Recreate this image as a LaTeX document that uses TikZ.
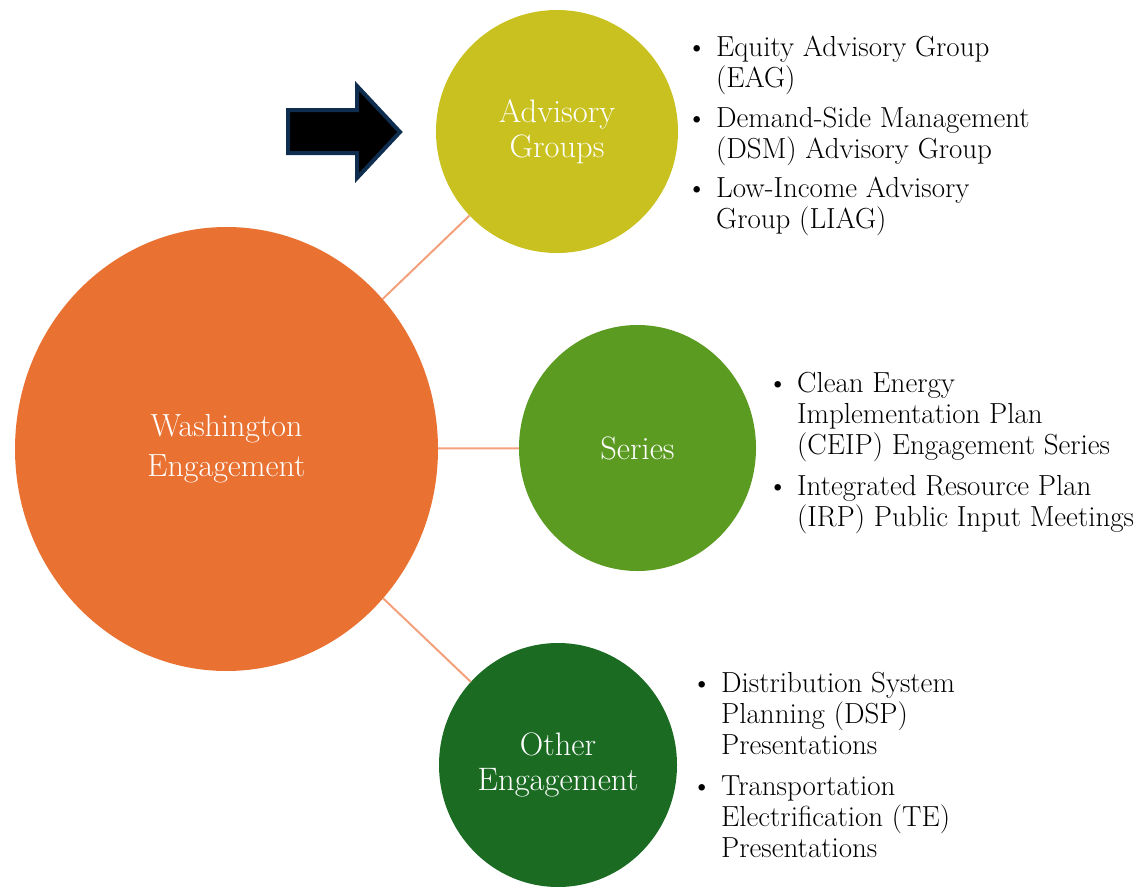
\documentclass[tikz,border=0pt]{standalone}
\usepackage{fontspec}
\usetikzlibrary{shapes.geometric}
\definecolor{orangeC}{HTML}{E97132}
\definecolor{advC}{HTML}{C9C120}
\definecolor{serC}{HTML}{5B9B21}
\definecolor{othC}{HTML}{1B6B23}
\definecolor{linkC}{HTML}{F3A07C}
\definecolor{navyC}{HTML}{0E2D4F}
\begin{document}
\begin{tikzpicture}[x=1pt,y=-1pt,
  bubble/.style={ellipse, inner sep=0pt, text=white, align=center,
    font=\fontsize{32.5}{35}\selectfont},
  link/.style={draw=linkC, line width=2pt},
  listtext/.style={anchor=base west, align=left, inner sep=0pt, text=black,
    font=\fontsize{29}{31}\selectfont},
  bigarrow/.style={draw=navyC, fill=black, line width=4pt, line join=miter}
]
\useasboundingbox (0,0) rectangle (1140,886);

% bubbles
\node[bubble, fill=orangeC, minimum width=423pt, minimum height=444pt,
  font=\fontsize{32}{40}\selectfont] (wash) at (226.5,449) {Washington\\Engagement};
\node[bubble, fill=advC, minimum width=242pt, minimum height=243pt] (adv) at (557,131.5) {Advisory\\Groups};
\node[bubble, fill=serC, minimum width=237pt, minimum height=246pt] (ser) at (637.5,448) {Series};
\node[bubble, fill=othC, minimum width=238pt, minimum height=244pt] (oth) at (558,765) {Other\\Engagement};

% connectors
\draw[link] (wash) -- (adv);
\draw[link] (wash) -- (ser);
\draw[link] (wash) -- (oth);

% block arrow
\draw[bigarrow] (288,110) -- (357,110) -- (357,86) -- (400,132) -- (357,178)
  -- (357,153) -- (288,153) -- cycle;

% lists (base anchor = baseline of last line)
\node[listtext] (eag) at (716,87) {\llap{\textbullet\hspace{9pt}}Equity Advisory Group\\(EAG)};
\node[listtext] (dsm) at (716,158) {\llap{\textbullet\hspace{9pt}}Demand-Side Management\\(DSM) Advisory Group};
\node[listtext] (liag) at (716,228) {\llap{\textbullet\hspace{9pt}}Low-Income Advisory\\Group (LIAG)};

\node[listtext] (ceip) at (797,454) {\llap{\textbullet\hspace{9pt}}Clean Energy\\Implementation Plan\\(CEIP) Engagement Series};
\node[listtext] (irp) at (797,526) {\llap{\textbullet\hspace{9pt}}Integrated Resource Plan\\(IRP) Public Input Meetings};

\node[listtext] (dsp) at (721,754) {\llap{\textbullet\hspace{9pt}}Distribution System\\Planning (DSP)\\Presentations};
\node[listtext] (te) at (721,857) {\llap{\textbullet\hspace{9pt}}Transportation\\Electrification (TE)\\Presentations};
\end{tikzpicture}
\end{document}
